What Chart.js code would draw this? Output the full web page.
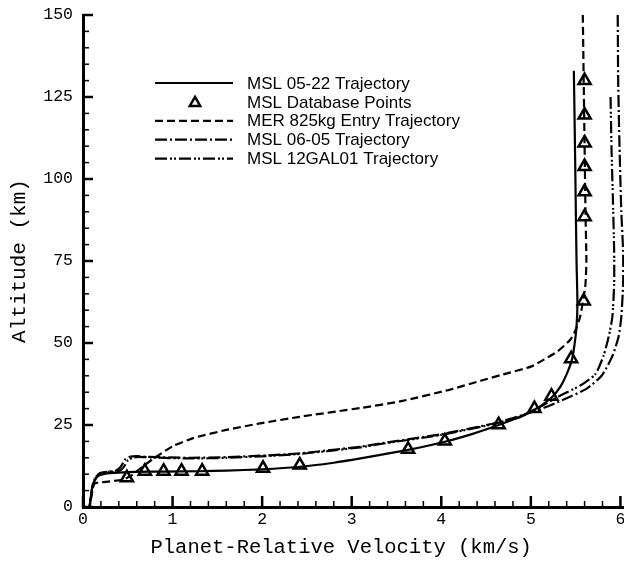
<!DOCTYPE html>
<html><head><meta charset="utf-8">
<script src="https://cdn.jsdelivr.net/npm/chart.js@4.4.0/dist/chart.umd.min.js"></script>
<style>html,body{margin:0;padding:0;background:#fff;}canvas{display:block;}</style>
</head><body>
<canvas id="c" width="624" height="563"></canvas>
<script>
// ---- tick labels ----
const xTickValues = [0, 1, 2, 3, 4, 5, 6];
const yTickValues = [0, 25, 50, 75, 100, 125, 150];
const xTitle = "Planet-Relative Velocity (km/s)";
const yTitle = "Altitude (km)";
// ---- series labels ----
const seriesLabels = ["MSL 05-22 Trajectory", "MSL Database Points", "MER 825kg Entry Trajectory", "MSL 06-05 Trajectory", "MSL 12GAL01 Trajectory"];
// ---- series values [velocity km/s, altitude km] ----
const msl0522 = [[5.48,133],[5.49,115],[5.50,95],[5.51,75],[5.52,62],[5.51,55],[5.49,50],[5.46,45],[5.40,40.5],[5.33,36.7],[5.24,33.6],[5.12,31],[5.03,29.6],[4.85,27.2],[4.64,25],[4.35,22.3],[4.04,19.9],[3.63,17.4],[3.32,15.9],[3.1,14.8],[2.8,13.5],[2.4,12.2],[2.0,11.5],[1.6,11.1],[1.3,10.9],[0.9,10.8],[0.6,10.7],[0.4,10.5],[0.25,10.2],[0.17,9.5],[0.13,8],[0.1,5.5],[0.085,2.5],[0.075,0]];
const mslDatabase = [[5.6,130],[5.6,119.5],[5.6,111],[5.6,103.8],[5.6,96.1],[5.6,88.5],[5.59,62.8],[5.45,45.2],[5.23,33.8],[5.04,30.0],[4.64,25.1],[4.04,20.1],[3.63,17.6],[2.42,12.8],[2.01,11.8],[1.33,10.9],[1.1,10.9],[0.9,10.9],[0.69,10.9],[0.49,8.9]];
const mer825 = [[5.58,150],[5.59,130],[5.6,110],[5.61,90],[5.62,75],[5.61,68],[5.59,64],[5.55,58],[5.5,54],[5.44,51],[5.3,47.5],[5.15,45],[5.0,42.8],[4.66,40.2],[4.44,38.5],[4.1,35.8],[3.54,32.2],[3.1,30.2],[2.42,27.5],[1.98,25.5],[1.6,23.5],[1.23,21],[1.0,18.5],[0.79,14.8],[0.64,11.8],[0.55,9.8],[0.45,8.4],[0.3,7.8],[0.13,7.2],[0.11,5.5],[0.09,2.5],[0.075,0]];
const msl0605 = [[5.97,150],[5.975,130],[5.99,110],[6.01,90],[6.03,78],[6.03,68],[6.01,58],[5.98,52],[5.91,46],[5.79,40],[5.62,36],[5.45,33.8],[5.2,30.8],[5.0,28.8],[4.6,25.6],[4.0,22.2],[3.32,19.4],[3.1,18.4],[2.35,16.2],[1.6,15.2],[1.2,15],[0.71,15.3],[0.6,15.5],[0.52,15.3],[0.47,14.5],[0.42,12.2],[0.36,11],[0.28,10.8],[0.19,10.4],[0.14,9],[0.11,7],[0.09,3.5],[0.07,0]];
const msl12gal01 = [[5.89,125],[5.9,110],[5.915,95],[5.93,78],[5.93,68],[5.91,58],[5.87,52],[5.81,46],[5.72,40.5],[5.55,37],[5.33,34],[5.1,30.5],[4.88,27.4],[4.6,25.4],[4.0,22.0],[3.32,19.2],[3.1,18.2],[2.35,16.0],[1.6,15.0],[1.2,14.8],[0.75,15.1],[0.62,15.3],[0.55,15],[0.5,14.2],[0.45,12],[0.4,11],[0.3,10.7],[0.2,10.3],[0.14,8.8],[0.11,6.8],[0.09,3.2],[0.07,0]];

const toXY = a => a.map(p => ({x: p[0], y: p[1]}));
const monoTick = {family: "'Liberation Mono', monospace", size: 16.5};
const monoTitle = {family: "'Liberation Mono', monospace", size: 20.5};

const lineDs = (label, arr, dash) => ({
  type: 'line', label, data: toXY(arr), borderColor: '#000', borderWidth: 2.2,
  borderDash: dash, pointRadius: 0, fill: false, tension: 0.2, showLine: true
});

const datasets = [
  lineDs(seriesLabels[0], msl0522, []),
  lineDs(seriesLabels[2], mer825, [8, 4]),
  lineDs(seriesLabels[3], msl0605, [12, 3, 2, 3]),
  lineDs(seriesLabels[4], msl12gal01, [12, 3, 2, 2, 2, 3]),
  {type: 'scatter', label: seriesLabels[1], data: toXY(mslDatabase), pointStyle: 'triangle',
   pointRadius: 7, pointHoverRadius: 7, borderColor: '#000', borderWidth: 2.5, backgroundColor: 'rgba(0,0,0,0)'}
];

const innerTicks = {
  id: 'innerTicks',
  afterDraw(chart) {
    const {ctx, scales: {x, y}, chartArea: a} = chart;
    ctx.save();
    ctx.strokeStyle = '#000';
    for (let i = 0; i <= 30; i++) {
      const px = x.getPixelForValue(i * 0.2);
      const major = i % 5 === 0;
      ctx.lineWidth = major ? 2.5 : 1.5;
      ctx.beginPath(); ctx.moveTo(px, a.bottom); ctx.lineTo(px, a.bottom - (major ? 11 : 6)); ctx.stroke();
    }
    for (let i = 0; i <= 30; i++) {
      const py = y.getPixelForValue(i * 5);
      const major = i % 5 === 0;
      ctx.lineWidth = major ? 2.5 : 1.5;
      ctx.beginPath(); ctx.moveTo(a.left, py); ctx.lineTo(a.left + (major ? 10 : 6), py); ctx.stroke();
    }
    ctx.restore();
  }
};

const legendBox = {
  id: 'legendBox',
  afterDraw(chart) {
    const ctx = chart.ctx;
    const order = [0, 4, 1, 2, 3];
    const x0 = 155, x1 = 233, tx = 247, y0 = 83, dy = 18.9;
    ctx.save();
    ctx.font = "17px 'Liberation Sans', Arial, sans-serif";
    ctx.fillStyle = '#000';
    ctx.textBaseline = 'middle';
    order.forEach((di, r) => {
      const ds = chart.data.datasets[di];
      const yy = y0 + r * dy;
      ctx.strokeStyle = '#000';
      if (ds.type === 'scatter') {
        ctx.lineWidth = 2.5; ctx.setLineDash([]);
        const cx = 195, cy = yy + 1, rr = 6;
        ctx.beginPath();
        ctx.moveTo(cx, cy - rr);
        ctx.lineTo(cx + rr * Math.sin(2 * Math.PI / 3), cy - rr * Math.cos(2 * Math.PI / 3));
        ctx.lineTo(cx + rr * Math.sin(4 * Math.PI / 3), cy - rr * Math.cos(4 * Math.PI / 3));
        ctx.closePath(); ctx.stroke();
      } else {
        ctx.lineWidth = 2.2; ctx.setLineDash(ds.borderDash || []);
        ctx.beginPath(); ctx.moveTo(x0, yy); ctx.lineTo(x1, yy); ctx.stroke();
      }
      ctx.setLineDash([]);
      ctx.fillText(ds.label, tx, yy + 1);
    });
    ctx.restore();
  }
};

new Chart(document.getElementById('c'), {
  data: {datasets},
  options: {
    responsive: false, devicePixelRatio: 1, animation: false,
    layout: {autoPadding: false, padding: {top: 15, right: 0, left: 0, bottom: 0}},
    plugins: {legend: {display: false}, tooltip: {enabled: false}},
    scales: {
      x: {
        type: 'linear', min: 0, max: 6.04,
        afterBuildTicks: s => { s.ticks = xTickValues.map(v => ({value: v})); },
        afterFit: s => { s.height = 56; s.paddingLeft = 0; s.paddingRight = 0; },
        ticks: {font: monoTick, color: '#000', padding: 3, maxRotation: 0, autoSkip: false, callback: v => String(v)},
        grid: {display: false, drawTicks: false},
        border: {display: true, color: '#000', width: 3},
        title: {display: true, text: xTitle + '  ', font: monoTitle, color: '#000', padding: {top: 0, bottom: 3}}
      },
      y: {
        type: 'linear', min: 0, max: 150,
        afterBuildTicks: s => { s.ticks = yTickValues.map(v => ({value: v})); },
        afterFit: s => { s.width = 83; s.paddingTop = 0; s.paddingBottom = 0; },
        ticks: {font: monoTick, color: '#000', padding: 10, autoSkip: false, callback: v => String(v)},
        grid: {display: false, drawTicks: false},
        border: {display: true, color: '#000', width: 3},
        title: {display: true, text: yTitle, font: {family: "'Liberation Mono', monospace", size: 21}, color: '#000', padding: {top: 7, bottom: 0}}
      }
    }
  },
  plugins: [innerTicks, legendBox]
});
</script>
</body></html>
